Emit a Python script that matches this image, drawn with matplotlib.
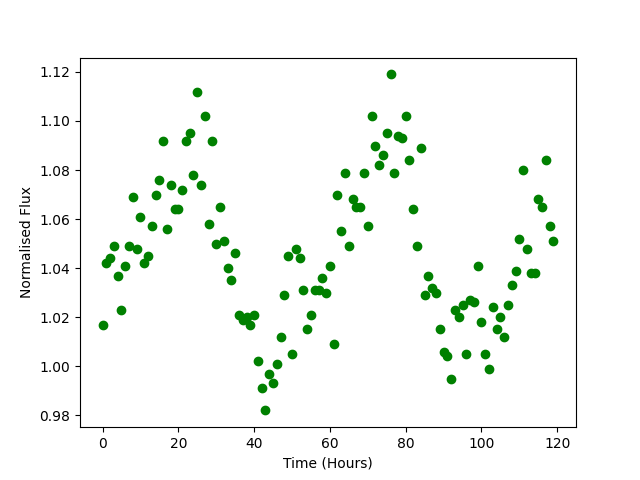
import matplotlib
matplotlib.use("Agg")
import matplotlib.pyplot as plt

# hourly samples, flux normalised
time_hours = list(range(120))
flux = [
    1.017, 1.042, 1.044, 1.049, 1.037, 1.023, 1.041, 1.049, 1.069, 1.048,
    1.061, 1.042, 1.045, 1.057, 1.070, 1.076, 1.092, 1.056, 1.074, 1.064,
    1.064, 1.072, 1.092, 1.095, 1.078, 1.112, 1.074, 1.102, 1.058, 1.092,
    1.050, 1.065, 1.051, 1.040, 1.035, 1.046, 1.021, 1.019, 1.020, 1.017,
    1.021, 1.002, 0.991, 0.982, 0.997, 0.993, 1.001, 1.012, 1.029, 1.045,
    1.005, 1.048, 1.044, 1.031, 1.015, 1.021, 1.031, 1.031, 1.036, 1.030,
    1.041, 1.009, 1.070, 1.055, 1.079, 1.049, 1.068, 1.065, 1.065, 1.079,
    1.057, 1.102, 1.090, 1.082, 1.086, 1.095, 1.119, 1.079, 1.094, 1.093,
    1.102, 1.084, 1.064, 1.049, 1.089, 1.029, 1.037, 1.032, 1.030, 1.015,
    1.006, 1.004, 0.995, 1.023, 1.020, 1.025, 1.005, 1.027, 1.026, 1.041,
    1.018, 1.005, 0.999, 1.024, 1.015, 1.020, 1.012, 1.025, 1.033, 1.039,
    1.052, 1.080, 1.048, 1.038, 1.038, 1.068, 1.065, 1.084, 1.057, 1.051,
]

fig = plt.figure(figsize=(6.4, 4.8), dpi=100)
plt.plot(time_hours, flux, 'o', color='green')
plt.xlabel('Time (Hours)')
plt.ylabel('Normalised Flux')

plt.savefig('out.png', dpi=100)
